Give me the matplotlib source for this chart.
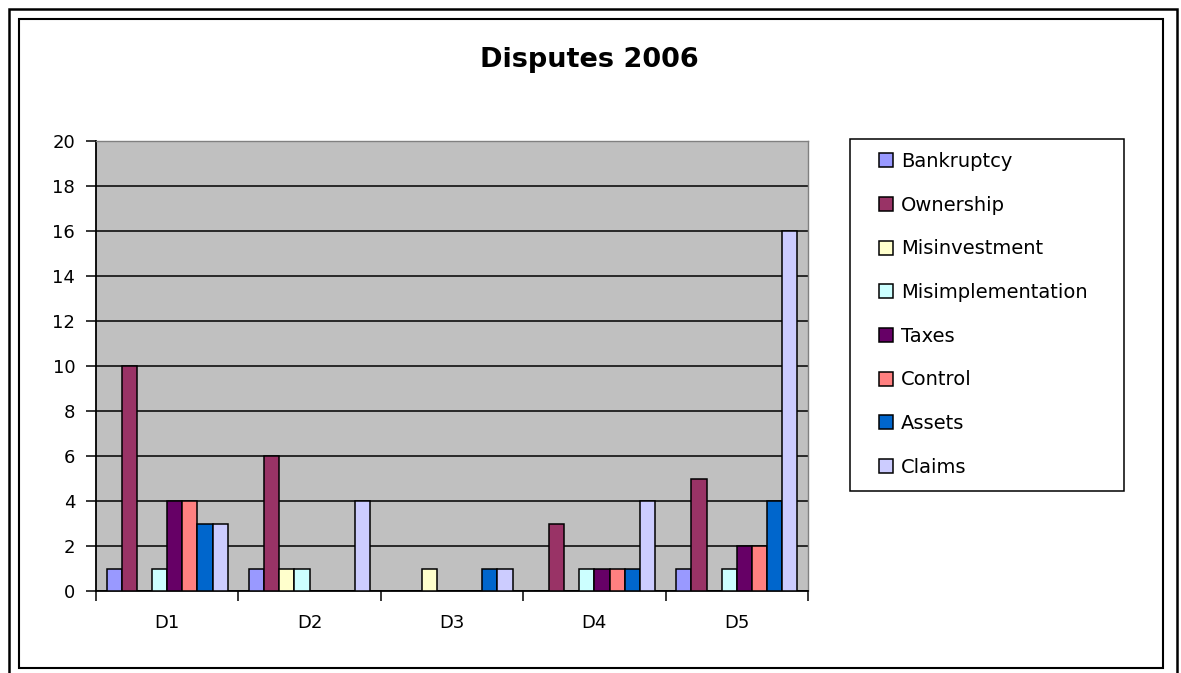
import numpy as np
import matplotlib.pyplot as plt
from matplotlib.patches import Rectangle

categories = ['D1', 'D2', 'D3', 'D4', 'D5']
bankruptcy = [1, 1, 0, 0, 1]
ownership = [10, 6, 0, 3, 5]
misinvestment = [0, 1, 1, 0, 0]
misimplementation = [1, 1, 0, 1, 1]
taxes = [4, 0, 0, 1, 2]
control = [4, 0, 0, 1, 2]
assets = [3, 0, 1, 1, 4]
claims = [3, 4, 1, 4, 16]

series = [
    ('Bankruptcy', bankruptcy, '#9999FF'),
    ('Ownership', ownership, '#993366'),
    ('Misinvestment', misinvestment, '#FFFFCC'),
    ('Misimplementation', misimplementation, '#CCFFFF'),
    ('Taxes', taxes, '#660066'),
    ('Control', control, '#FF8080'),
    ('Assets', assets, '#0066CC'),
    ('Claims', claims, '#CCCCFF'),
]

plt.rcParams['font.family'] = ['DejaVu Sans']

fig = plt.figure(figsize=(11.81, 6.73), dpi=100)
W, H = 1181, 673

# outer frames
fig.add_artist(Rectangle((9 / W, -0.1), 1168 / W, 1.1 - 9 / H, transform=fig.transFigure,
                         fill=False, edgecolor='black', linewidth=1.8))
fig.add_artist(Rectangle((19 / W, 1 - 668 / H), 1144 / W, 649 / H, transform=fig.transFigure,
                         fill=False, edgecolor='black', linewidth=1.5))

ax = fig.add_axes([96 / W, 1 - 591 / H, 712 / W, 450 / H])
ax.set_facecolor('#C0C0C0')

x = np.arange(len(categories))
n = len(series)
bw = 0.85 / n
for i, (name, vals, col) in enumerate(series):
    ax.bar(x - 0.425 + bw * (i + 0.5), vals, width=bw, color=col, edgecolor='black',
           linewidth=1.1, label=name, zorder=3)

ax.set_xlim(-0.5, len(categories) - 0.5)
ax.set_ylim(0, 20)
ax.set_yticks(range(0, 21, 2))
ax.yaxis.grid(True, color='black', linewidth=1.1, zorder=1)
ax.set_axisbelow(True)

ax.set_xticks(x)
ax.set_xticklabels(categories)
ax.set_xticks(np.arange(-0.5, len(categories)), minor=True)
ax.tick_params(axis='x', which='major', length=0, pad=16.5, labelsize=13)
ax.tick_params(axis='x', which='minor', length=7, width=1.1, direction='out')
ax.tick_params(axis='y', length=7, width=1.1, direction='out', pad=8, labelsize=13)

for s in ['left', 'bottom']:
    ax.spines[s].set_color('black')
    ax.spines[s].set_linewidth(1.3)
for s in ['top', 'right']:
    ax.spines[s].set_color('#808080')
    ax.spines[s].set_linewidth(1.0)

fig.text(589 / W, 1 - 60 / H, 'Disputes 2006', ha='center', va='center',
         fontsize=19.5, fontweight='bold')

# legend box drawn separately so the inner padding can match
fig.add_artist(Rectangle((850 / W, 1 - 491 / H), 274 / W, 352 / H, transform=fig.transFigure,
                         fill=False, edgecolor='black', linewidth=1.1))
leg = fig.legend(loc='upper left', bbox_to_anchor=(879 / W, 1 - 152 / H),
                 fontsize=14, frameon=False,
                 handlelength=0.72, handleheight=0.72, handletextpad=0.42,
                 labelspacing=1.27, borderpad=0, borderaxespad=0)

fig.savefig('out.png', dpi=100)
